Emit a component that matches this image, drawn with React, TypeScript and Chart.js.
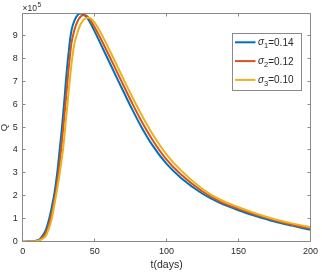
import React, { useEffect, useRef } from "react";
import { Chart, registerables } from "chart.js";

Chart.register(...registerables);

// time in days
const days = [0, 4, 8, 10, 12, 14, 16, 18, 20, 22, 24, 26, 27, 28, 29, 30, 31, 32, 33, 34, 36, 38, 40, 42, 44, 46, 48, 50, 53, 56, 60, 65, 70, 76, 82, 90, 100, 110, 125, 137, 150, 162, 175, 187, 200];
// Q in units of 1e5
const qSigma1 = [0, 0.005, 0.02, 0.05, 0.12, 0.28, 0.5, 0.9, 1.45, 2.1, 3.0, 4.2, 4.8, 5.5, 6.2, 7.0, 7.7, 8.3, 8.85, 9.25, 9.65, 9.87, 9.95, 9.93, 9.83, 9.65, 9.42, 9.17, 8.78, 8.38, 7.86, 7.2, 6.55, 5.78, 5.06, 4.22, 3.39, 2.78, 2.09, 1.69, 1.37, 1.12, 0.88, 0.7, 0.52];
const qSigma2 = [0, 0.004, 0.015, 0.04, 0.09, 0.2, 0.37, 0.7, 1.2, 1.8, 2.6, 3.6, 4.2, 4.85, 5.5, 6.2, 6.9, 7.6, 8.2, 8.7, 9.25, 9.6, 9.8, 9.87, 9.86, 9.75, 9.57, 9.35, 9.0, 8.63, 8.12, 7.47, 6.82, 6.05, 5.32, 4.46, 3.58, 2.93, 2.19, 1.76, 1.43, 1.17, 0.93, 0.74, 0.57];
const qSigma3 = [0, 0.003, 0.01, 0.03, 0.07, 0.14, 0.25, 0.55, 0.95, 1.6, 2.3, 3.1, 3.55, 4.0, 4.6, 5.3, 5.9, 6.6, 7.2, 7.8, 8.65, 9.1, 9.45, 9.65, 9.75, 9.77, 9.7, 9.55, 9.25, 8.9, 8.4, 7.75, 7.1, 6.33, 5.6, 4.72, 3.8, 3.11, 2.3, 1.84, 1.5, 1.23, 0.98, 0.8, 0.63];

const sigmaIndex = ["1", "2", "3"];
const sigmaValue = ["0.14", "0.12", "0.10"];
const seriesColors = ["#0072BD", "#D95319", "#EDB120"];

const xTicks = [0, 50, 100, 150, 200];
const yTicks = [0, 1, 2, 3, 4, 5, 6, 7, 8, 9];
const yExponent = "5";

const FONT = "'Liberation Sans', Arial, sans-serif";
const AXIS_COLOR = "#8a8a8a";
const TEXT_COLOR = "#2a2a2a";

const framePlugin = {
  id: "framePlugin",
  afterDraw(chart: any) {
    const ctx = chart.ctx;
    const { left, right, top, bottom } = chart.chartArea;
    const L = Math.floor(left) + 0.5;
    const R = Math.floor(right) + 0.5;
    const T = Math.floor(top) + 0.5;
    const B = Math.floor(bottom) + 0.5;
    ctx.save();
    ctx.strokeStyle = AXIS_COLOR;
    ctx.lineWidth = 1;
    ctx.beginPath();
    ctx.rect(L, T, R - L, B - T);
    ctx.stroke();
    const tl = 3;
    const xs = chart.scales.x;
    const ys = chart.scales.y;
    ctx.beginPath();
    xTicks.forEach((v) => {
      const px = Math.floor(xs.getPixelForValue(v)) + 0.5;
      ctx.moveTo(px, B);
      ctx.lineTo(px, B - tl);
      ctx.moveTo(px, T);
      ctx.lineTo(px, T + tl);
    });
    yTicks.forEach((v) => {
      const py = Math.floor(ys.getPixelForValue(v)) + 0.5;
      ctx.moveTo(L, py);
      ctx.lineTo(L + tl, py);
      ctx.moveTo(R, py);
      ctx.lineTo(R - tl, py);
    });
    ctx.stroke();

    // exponent label
    ctx.fillStyle = TEXT_COLOR;
    ctx.textBaseline = "alphabetic";
    ctx.textAlign = "left";
    ctx.font = `8.5px ${FONT}`;
    const base = "\u00d710";
    ctx.fillText(base, L, 11);
    const w = ctx.measureText(base).width;
    ctx.font = `6.5px ${FONT}`;
    ctx.fillText(yExponent, L + w + 0.5, 7);

    // legend
    const bx = 232.5, by = 33.5, bw = 69, bh = 57;
    ctx.fillStyle = "#ffffff";
    ctx.fillRect(bx, by, bw, bh);
    ctx.strokeStyle = AXIS_COLOR;
    ctx.strokeRect(bx, by, bw, bh);
    chart.data.datasets.forEach((ds: any, i: number) => {
      const y = 42.3 + i * 18.8;
      ctx.strokeStyle = ds.borderColor;
      ctx.lineWidth = 2;
      ctx.beginPath();
      ctx.moveTo(235, y);
      ctx.lineTo(255.5, y);
      ctx.stroke();
      ctx.fillStyle = TEXT_COLOR;
      let x = 258;
      ctx.font = `italic 10px ${FONT}`;
      ctx.fillText("\u03c3", x, y + 3);
      x += ctx.measureText("\u03c3").width;
      ctx.font = `7.5px ${FONT}`;
      ctx.fillText(sigmaIndex[i], x, y + 6);
      x += ctx.measureText(sigmaIndex[i]).width;
      ctx.font = `10px ${FONT}`;
      ctx.fillText("=" + sigmaValue[i], x, y + 3.5);
    });
    ctx.restore();
  },
};

export default function App() {
  const ref = useRef<HTMLCanvasElement>(null);
  useEffect(() => {
    if (!ref.current) return;
    const series = [qSigma1, qSigma2, qSigma3];
    const chart = new Chart(ref.current, {
      type: "line",
      data: {
        datasets: series.map((s, i) => ({
          label: `sigma${sigmaIndex[i]}=${sigmaValue[i]}`,
          data: days.map((d, j) => ({ x: d, y: s[j] })),
          borderColor: seriesColors[i],
          backgroundColor: seriesColors[i],
          borderWidth: 2,
          pointRadius: 0,
          cubicInterpolationMode: "monotone" as const,
          fill: false,
          order: 2 - i,
        })),
      },
      options: {
        animation: false,
        responsive: false,
        devicePixelRatio: 1,
        layout: { padding: { top: 13.3, right: 8.7, left: 0, bottom: 0 } },
        plugins: { legend: { display: false }, tooltip: { enabled: false } },
        scales: {
          x: {
            type: "linear",
            min: 0,
            max: 200,
            afterBuildTicks: (s: any) => {
              s.ticks = xTicks.map((v) => ({ value: v }));
            },
            afterFit: (s: any) => {
              s.height = 31.3;
            },
            grid: { display: false, drawTicks: false },
            border: { display: false },
            ticks: {
              font: { family: FONT, size: 9 },
              color: TEXT_COLOR,
              padding: 4,
              maxRotation: 0,
              autoSkip: false,
            },
            title: {
              display: true,
              text: "t(days)",
              font: { family: FONT, size: 10.5 },
              color: TEXT_COLOR,
              padding: { top: 0, bottom: 2 },
            },
          },
          y: {
            type: "linear",
            min: 0,
            max: 9.96,
            afterBuildTicks: (s: any) => {
              s.ticks = yTicks.map((v) => ({ value: v }));
            },
            afterFit: (s: any) => {
              s.width = 22.7;
            },
            grid: { display: false, drawTicks: false },
            border: { display: false },
            ticks: {
              font: { family: FONT, size: 9 },
              color: TEXT_COLOR,
              padding: 5,
              autoSkip: false,
            },
            title: {
              display: true,
              text: "Q",
              font: { family: FONT, size: 9.5, lineHeight: 1 },
              color: TEXT_COLOR,
              padding: 0,
            },
          },
        },
      },
      plugins: [framePlugin],
    });
    return () => chart.destroy();
  }, []);
  return (
    <div style={{ position: "fixed", left: 0, top: 0, width: 322, height: 273, background: "#fff" }}>
      <canvas ref={ref} width={322} height={273} style={{ display: "block", width: 322, height: 273 }} />
    </div>
  );
}
